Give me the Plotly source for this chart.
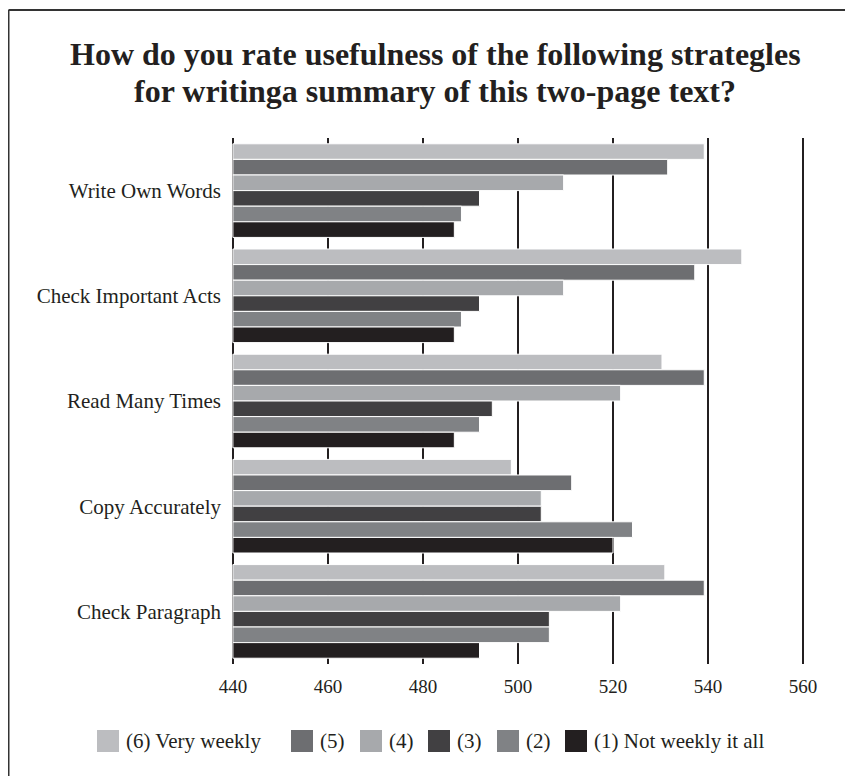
import plotly.graph_objects as go

categories = ["Write Own Words", "Check Important Acts", "Read Many Times",
              "Copy Accurately", "Check Paragraph"]

# one list per answer level, in category order
very_weekly = [539.2, 547.1, 530.3, 498.6, 530.9]
level5 = [531.5, 537.2, 539.2, 511.3, 539.2]
level4 = [509.6, 509.6, 521.6, 504.9, 521.6]
level3 = [491.9, 491.9, 494.6, 504.9, 506.6]
level2 = [488.1, 488.1, 491.9, 524.1, 506.6]
not_weekly = [486.6, 486.6, 486.6, 520.0, 491.9]

names = ["(6) Very weekly", "(5)", "(4)", "(3)", "(2)", "(1) Not weekly it all"]
values = [very_weekly, level5, level4, level3, level2, not_weekly]
colors = ["#bcbdc0", "#6d6e71", "#a7a9ac", "#414042", "#808285", "#231f20"]

x_ticks = [440, 460, 480, 500, 520, 540, 560]

font = "Liberation Serif, Times New Roman, serif"
ink = "#231f20"

# page has an 8px body margin, so the figure is drawn 8px smaller
OFF = 8
W, H = 853 - OFF, 776 - OFF
L, R, T, B = 223, 48, 130, 112
PW, PH = W - L - R, H - T - B


def px(x):
    # screen x -> paper x
    return (x - OFF - L) / PW


def py(y):
    # screen y -> paper y
    return (H - B - (y - OFF)) / PH


fig = go.Figure()
for name, vals, color in zip(names, values, colors):
    fig.add_trace(go.Bar(
        y=categories, x=[v - 440 for v in vals], base=440,
        orientation="h", name=name, showlegend=False,
        marker=dict(color=color, line=dict(color="white", width=1)),
    ))

fig.update_layout(
    width=W, height=H,
    margin=dict(l=L, r=R, t=T, b=B),
    paper_bgcolor="white", plot_bgcolor="white",
    barmode="group", bargap=0.11, bargroupgap=0,
    font=dict(family=font, color=ink),
    xaxis=dict(
        range=[439.6, 560.4], tickvals=x_ticks,
        showgrid=True, gridcolor=ink, gridwidth=1.5,
        zeroline=False, showline=False,
        tickfont=dict(size=19), ticks="", ticklabelstandoff=9,
    ),
    yaxis=dict(
        autorange="reversed", showgrid=False, showline=False,
        tickfont=dict(size=21), ticks="", ticklabelstandoff=9,
    ),
    showlegend=False,
)

# title, two lines
title_lines = ["How do you rate usefulness of the following strategles",
               "for writinga summary of this two-page text?"]
for line, yc in zip(title_lines, [54, 91]):
    fig.add_annotation(text="<b>%s</b>" % line, xref="paper", yref="paper",
                       x=px(435), y=py(yc), xanchor="center", yanchor="middle",
                       showarrow=False, font=dict(family=font, size=32, color=ink))

# legend drawn by hand (big square swatches)
swatch_x = [97, 291, 360, 428, 497, 565]
leg_y = 741
for name, color, sx in zip(names, colors, swatch_x):
    fig.add_shape(type="rect", xref="paper", yref="paper",
                  x0=px(sx), x1=px(sx + 22), y0=py(leg_y - 11), y1=py(leg_y + 11),
                  fillcolor=color, line=dict(width=0))
    fig.add_annotation(text=name, xref="paper", yref="paper",
                       x=px(sx + 27), y=py(leg_y), xanchor="left", yanchor="middle",
                       showarrow=False, font=dict(family=font, size=21, color=ink))

# frame lines (left and top) around the figure
fig.add_shape(type="line", xref="paper", yref="paper",
              x0=px(8.5), x1=px(8.5), y0=py(10), y1=py(800),
              line=dict(color="#333333", width=2))
fig.add_shape(type="line", xref="paper", yref="paper",
              x0=px(8.5), x1=px(900), y0=py(10), y1=py(10),
              line=dict(color="#333333", width=2))

fig.write_html("out.html")
